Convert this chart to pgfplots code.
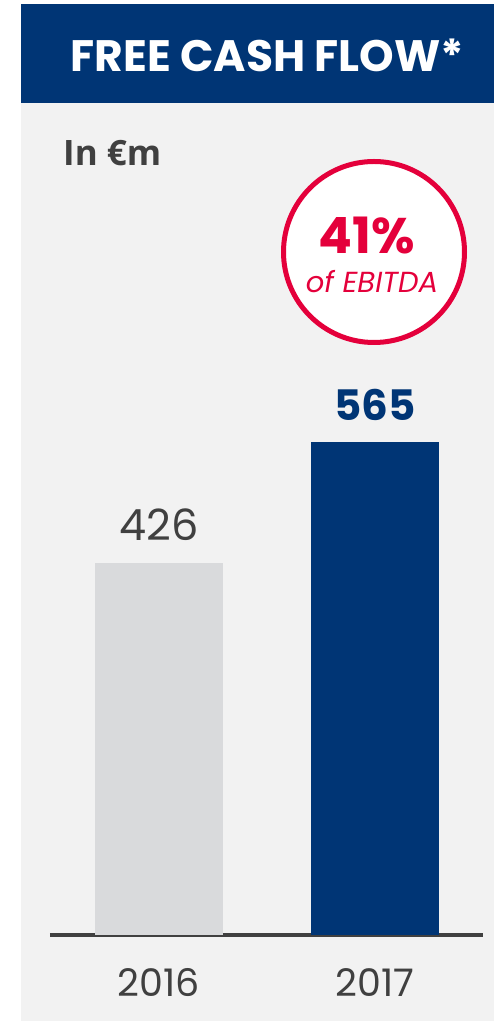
\documentclass[border=0pt]{standalone}
\usepackage{pgfplots}
\pgfplotsset{compat=1.18}
\usepackage{fontspec}
\setmainfont{Poppins}
\newfontfamily\opensans{Open Sans}
\definecolor{navy}{HTML}{003575}
\definecolor{bargray}{HTML}{D9DADC}
\definecolor{panel}{HTML}{F2F2F2}
\definecolor{txt}{HTML}{404040}
\definecolor{crim}{HTML}{E4003B}
\begin{document}
\begin{tikzpicture}
\useasboundingbox (0pt,0pt) rectangle (494pt,1021pt);
\fill[white] (0pt,0pt) rectangle (494pt,1021pt);
\fill[panel] (21pt,0pt) rectangle (494pt,918pt);
\fill[navy] (21pt,918pt) rectangle (494pt,1017pt);
\node[anchor=base, text=white, inner sep=0pt, font=\fontsize{44}{48}\selectfont\bfseries] at (267.5pt,949pt) {FREE CASH FLOW*};
\node[anchor=base west, text=txt, inner sep=0pt, font=\opensans\fontsize{35}{40}\selectfont\bfseries] at (63pt,855pt) {In €m};
\begin{axis}[
  at={(50pt,86pt)}, anchor=south west,
  scale only axis, width=433pt, height=523.8pt,
  xmin=-0.5046, xmax=1.5, ymin=0, ymax=600,
  axis x line=bottom, axis y line=none,
  axis line style={draw=txt, line width=3.5pt, -},
  xtick={0,1}, xticklabels={2016,2017},
  major tick length=0pt,
  xticklabel style={anchor=base, yshift=-62pt, text=txt, inner sep=0pt, font=\fontsize{38}{42}\selectfont},
  ybar, bar width=128pt, bar shift=0pt,
  clip=false,
  /pgf/number format/assume math mode=true,
]
\addplot[fill=bargray, draw=none,
  nodes near coords,
  every node near coord/.style={anchor=south, inner sep=0pt, yshift=22pt, text=txt, font=\fontsize{43}{48}\selectfont}]
  coordinates {(0,426)};
\addplot[fill=navy, draw=none,
  nodes near coords,
  every node near coord/.style={anchor=south, inner sep=0pt, yshift=21pt, text=navy, font=\fontsize{42}{48}\selectfont\bfseries}]
  coordinates {(1,565)};
\end{axis}
\draw[crim, fill=white, line width=5pt] (374pt,769pt) circle (90.5pt);
\node[anchor=base, text=crim, inner sep=0pt, font=\fontsize{50}{54}\selectfont\bfseries] at (367pt,767pt) {41\%};
\node[anchor=base, text=crim, inner sep=0pt, font=\fontsize{29}{32}\selectfont\itshape] at (372pt,728pt) {of EBITDA};
\end{tikzpicture}
\end{document}
